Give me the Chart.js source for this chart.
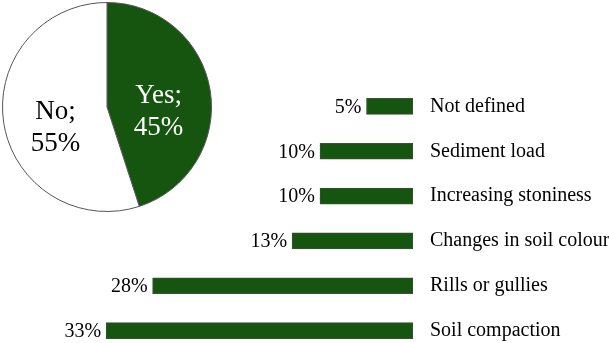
<!DOCTYPE html>
<html>
<head>
<meta charset="utf-8">
<script src="https://cdn.jsdelivr.net/npm/chart.js@4.4.1/dist/chart.umd.min.js"></script>
<style>
  html, body { margin: 0; padding: 0; background: #fff; overflow: hidden; }
  body { width: 609px; height: 343px; position: relative; }
  #pie-chart { position: absolute; left: 0; top: 0; }
  #bar-chart { position: absolute; left: 0; top: 84px; }
</style>
</head>
<body>
<canvas id="pie-chart" width="214" height="214"></canvas>
<canvas id="bar-chart" width="609" height="269"></canvas>
<script>
var pieLabels = ["Yes", "No"];
var pieValues = [45, 55];

var barLabels = [
  "Not defined",
  "Sediment load",
  "Increasing stoniness",
  "Changes in soil colour",
  "Rills or gullies",
  "Soil compaction",
];
var barValues = [5, 10, 10, 13, 28, 33];

var green = "#165510";
var serif = "'Liberation Serif', 'Times New Roman', serif";

// two-line labels inside the pie slices
var pieText = {
  id: "pieText",
  afterDatasetsDraw: function (chart) {
    var ctx = chart.ctx;
    var arcs = chart.getDatasetMeta(0).data;
    ctx.save();
    ctx.font = "27px " + serif;
    ctx.textAlign = "center";
    ctx.textBaseline = "alphabetic";
    arcs.forEach(function (arc, i) {
      var p = arc.tooltipPosition();
      ctx.fillStyle = i === 0 ? "#ffffff" : "#000000";
      ctx.fillText(pieLabels[i] + ";", p.x, p.y + 4);
      ctx.fillText(pieValues[i] + "%", p.x, p.y + 36);
    });
    ctx.restore();
  },
};

// value labels to the left of each bar
var barText = {
  id: "barText",
  afterDatasetsDraw: function (chart) {
    var ctx = chart.ctx;
    var bars = chart.getDatasetMeta(0).data;
    ctx.save();
    ctx.font = "20px " + serif;
    ctx.fillStyle = "#000";
    ctx.textAlign = "right";
    ctx.textBaseline = "middle";
    bars.forEach(function (bar, i) {
      ctx.fillText(barValues[i] + "%", bar.x - 5, bar.y + 1);
    });
    ctx.restore();
  },
};

function pieChart() {
  new Chart(document.getElementById("pie-chart"), {
    type: "pie",
    data: {
      labels: pieLabels,
      datasets: [
        {
          data: pieValues,
          backgroundColor: [green, "#ffffff"],
          borderColor: "#555",
          borderWidth: 1,
        },
      ],
    },
    options: {
      responsive: false,
      animation: false,
      layout: { padding: 2 },
      plugins: {
        legend: { display: false },
        tooltip: { enabled: false },
      },
    },
    plugins: [pieText],
  });
}

function barChart() {
  new Chart(document.getElementById("bar-chart"), {
    type: "bar",
    data: {
      labels: barLabels,
      datasets: [
        {
          data: barValues,
          backgroundColor: green,
          borderColor: "#3b5236",
          borderWidth: 1,
          borderSkipped: false,
          barThickness: 16,
        },
      ],
    },
    options: {
      indexAxis: "y",
      responsive: false,
      animation: false,
      layout: { padding: { left: 41, top: 0, bottom: 0, right: 0 } },
      plugins: {
        legend: { display: false },
        tooltip: { enabled: false },
      },
      scales: {
        x: {
          display: false,
          reverse: true,
          min: 0,
          max: 40,
        },
        y: {
          position: "right",
          grid: { display: false, drawTicks: false },
          border: { display: false },
          afterFit: function (scale) {
            scale.width = 196;
            // tick padding would otherwise shrink the plot vertically
            scale.paddingTop = 0;
            scale.paddingBottom = 0;
          },
          ticks: {
            padding: 17,
            color: "#000",
            font: { family: serif, size: 20 },
          },
        },
      },
    },
    plugins: [barText],
  });
}

document.addEventListener("DOMContentLoaded", function () {
  pieChart();
  barChart();
});
</script>
</body>
</html>
